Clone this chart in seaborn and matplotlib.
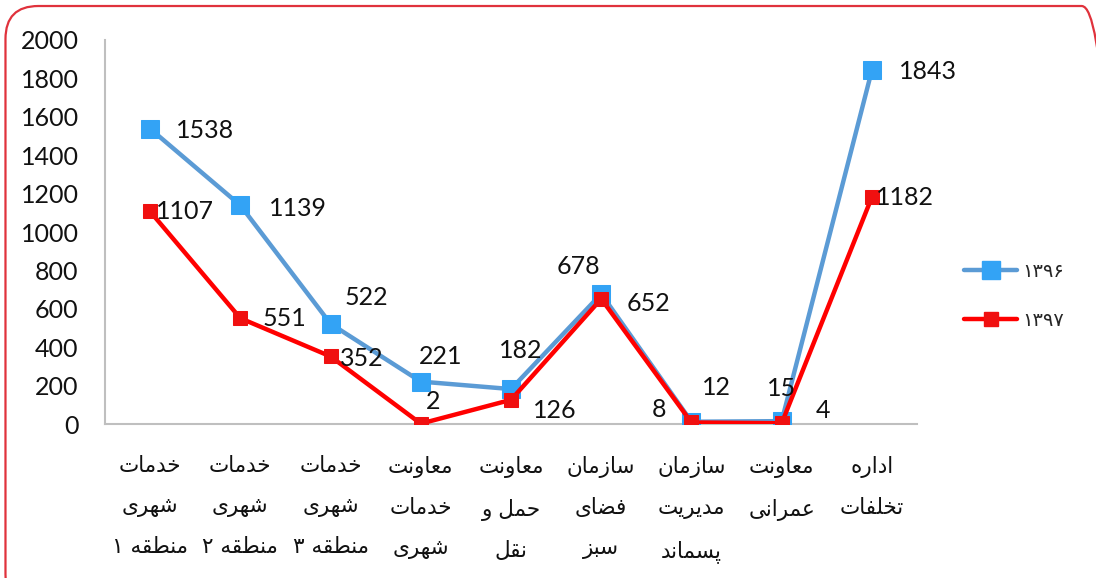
import numpy as np
import pandas as pd
import matplotlib
matplotlib.use("Agg")
import matplotlib.pyplot as plt
from matplotlib.patches import FancyBboxPatch
from matplotlib.lines import Line2D
import seaborn as sns

# ---------------- data ----------------
categories = [
    "خدمات\nشهری\nمنطقه ۱",
    "خدمات\nشهری\nمنطقه ۲",
    "خدمات\nشهری\nمنطقه ۳",
    "معاونت\nخدمات\nشهری",
    "معاونت\nحمل و\nنقل",
    "سازمان\nفضای\nسبز",
    "سازمان\nمدیریت\nپسماند",
    "معاونت\nعمرانی",
    "اداره\nتخلفات",
]
series_names = ["۱۳۹۶", "۱۳۹۷"]
values_1396 = [1538, 1139, 522, 221, 182, 678, 12, 15, 1843]
values_1397 = [1107, 551, 352, 2, 126, 652, 8, 4, 1182]
yticks = [0, 200, 400, 600, 800, 1000, 1200, 1400, 1600, 1800, 2000]

# label offsets in pixels (dx, dy, ha)
offs_1396 = [(26, -2, "left"), (29, -3, "left"), (14, 26, "left"), (-2, 25, "left"),
             (10, 39, "center"), (-23, 27, "center"), (25, 34, "center"),
             (0, 33, "center"), (27, -1, "left")]
offs_1397 = [(6, 0, "left"), (22, 0, "left"), (9, -2, "left"), (12, 22, "center"),
             (22, -11, "left"), (25, -5, "left"), (-32, 13, "center"),
             (41, 13, "center"), (4, 0, "left")]

# ---------------- minimal Persian shaping ----------------
FORMS = {
    "\u0627": ("\uFE8D", "\uFE8E", None, None),
    "\u0628": ("\uFE8F", "\uFE90", "\uFE91", "\uFE92"),
    "\u067E": ("\uFB56", "\uFB57", "\uFB58", "\uFB59"),
    "\u062A": ("\uFE95", "\uFE96", "\uFE97", "\uFE98"),
    "\u062D": ("\uFEA1", "\uFEA2", "\uFEA3", "\uFEA4"),
    "\u062E": ("\uFEA5", "\uFEA6", "\uFEA7", "\uFEA8"),
    "\u062F": ("\uFEA9", "\uFEAA", None, None),
    "\u0631": ("\uFEAD", "\uFEAE", None, None),
    "\u0632": ("\uFEAF", "\uFEB0", None, None),
    "\u0633": ("\uFEB1", "\uFEB2", "\uFEB3", "\uFEB4"),
    "\u0634": ("\uFEB5", "\uFEB6", "\uFEB7", "\uFEB8"),
    "\u0636": ("\uFEBD", "\uFEBE", "\uFEBF", "\uFEC0"),
    "\u0637": ("\uFEC1", "\uFEC2", "\uFEC3", "\uFEC4"),
    "\u0639": ("\uFEC9", "\uFECA", "\uFECB", "\uFECC"),
    "\u0641": ("\uFED1", "\uFED2", "\uFED3", "\uFED4"),
    "\u0642": ("\uFED5", "\uFED6", "\uFED7", "\uFED8"),
    "\u0644": ("\uFEDD", "\uFEDE", "\uFEDF", "\uFEE0"),
    "\u0645": ("\uFEE1", "\uFEE2", "\uFEE3", "\uFEE4"),
    "\u0646": ("\uFEE5", "\uFEE6", "\uFEE7", "\uFEE8"),
    "\u0647": ("\uFEE9", "\uFEEA", "\uFEEB", "\uFEEC"),
    "\u0648": ("\uFEED", "\uFEEE", None, None),
    "\u06CC": ("\uFBFC", "\uFBFD", "\uFBFE", "\uFBFF"),
}


def shape_line(s):
    out = []
    for i, c in enumerate(s):
        if c not in FORMS:
            out.append(c)
            continue
        prev = s[i - 1] if i > 0 else None
        nxt = s[i + 1] if i + 1 < len(s) else None
        jp = prev in FORMS and FORMS[prev][2] is not None
        jn = nxt in FORMS and FORMS[c][2] is not None
        iso, fin, ini, med = FORMS[c]
        if jp and jn:
            out.append(med)
        elif jp:
            out.append(fin)
        elif jn:
            out.append(ini)
        else:
            out.append(iso)
    return "".join(out)[::-1]


def shape(s):
    return "\n".join(shape_line(l) for l in s.split("\n"))


# ---------------- plot ----------------
sns.set_theme(style="white")
plt.rcParams["font.family"] = ["Lato", "DejaVu Sans"]

df = pd.DataFrame({
    "x": list(range(len(categories))) * 2,
    "value": values_1396 + values_1397,
    "year": [series_names[0]] * len(categories) + [series_names[1]] * len(categories),
})

fig = plt.figure(figsize=(10.96, 5.78), dpi=100)
ax = fig.add_axes([0.0958, 0.2664, 0.7409, 0.6644])

blue_line = "#5B9BD5"
blue_mark = "#33A3F5"
red_line = "#FF0000"
red_mark = "#F01010"

sns.lineplot(data=df[df.year == series_names[0]], x="x", y="value", ax=ax,
             color=blue_line, linewidth=3.2, marker="s", markersize=13,
             markerfacecolor=blue_mark, markeredgecolor=blue_mark, sort=False,
             legend=False, zorder=3)
sns.lineplot(data=df[df.year == series_names[1]], x="x", y="value", ax=ax,
             color=red_line, linewidth=3.2, marker="s", markersize=10,
             markerfacecolor=red_mark, markeredgecolor=red_mark, sort=False,
             legend=False, zorder=4)

for vals, offs in ((values_1396, offs_1396), (values_1397, offs_1397)):
    for i, (v, (dx, dy, ha)) in enumerate(zip(vals, offs)):
        ax.annotate(str(v), (i, v), xytext=(dx, dy), textcoords="offset pixels",
                    ha=ha, va="center", fontsize=18, color="#111111", zorder=6)

ax.set_xlim(-0.5, len(categories) - 0.5)
ax.set_ylim(0, 2000)
ax.set_yticks(yticks)
ax.set_yticklabels([str(t) for t in yticks], fontsize=18, color="#111111")
ax.set_xticks(range(len(categories)))
ax.set_xticklabels([shape(c) for c in categories], fontsize=15.5, color="#111111",
                   family=["DejaVu Sans"], linespacing=2.25, va="top")
ax.tick_params(axis="y", length=0, pad=19)
ax.tick_params(axis="x", length=0, pad=23)
ax.set_xlabel("")
ax.set_ylabel("")
for side in ("top", "right"):
    ax.spines[side].set_visible(False)
for side in ("left", "bottom"):
    ax.spines[side].set_color("#BFBFBF")
    ax.spines[side].set_linewidth(1.5)

handles = [
    Line2D([0], [0], color=blue_line, lw=3.2, marker="s", markersize=13,
           markerfacecolor=blue_mark, markeredgecolor=blue_mark),
    Line2D([0], [0], color=red_line, lw=3.2, marker="s", markersize=10,
           markerfacecolor=red_mark, markeredgecolor=red_mark),
]
leg = fig.legend(handles, series_names, loc="center left",
                 bbox_to_anchor=(0.864, 0.488), frameon=False,
                 prop={"family": "DejaVu Sans", "size": 14},
                 labelspacing=1.55, handlelength=2.7, handletextpad=0.25)

border = FancyBboxPatch((0.005, -0.05), 1.012, 1.0396,
                        boxstyle="round,pad=0,rounding_size=0.03",
                        transform=fig.transFigure, fill=False,
                        edgecolor="#E0323C", linewidth=1.6, mutation_aspect=1.9)
fig.patches.append(border)

fig.savefig("out.png", dpi=100)
